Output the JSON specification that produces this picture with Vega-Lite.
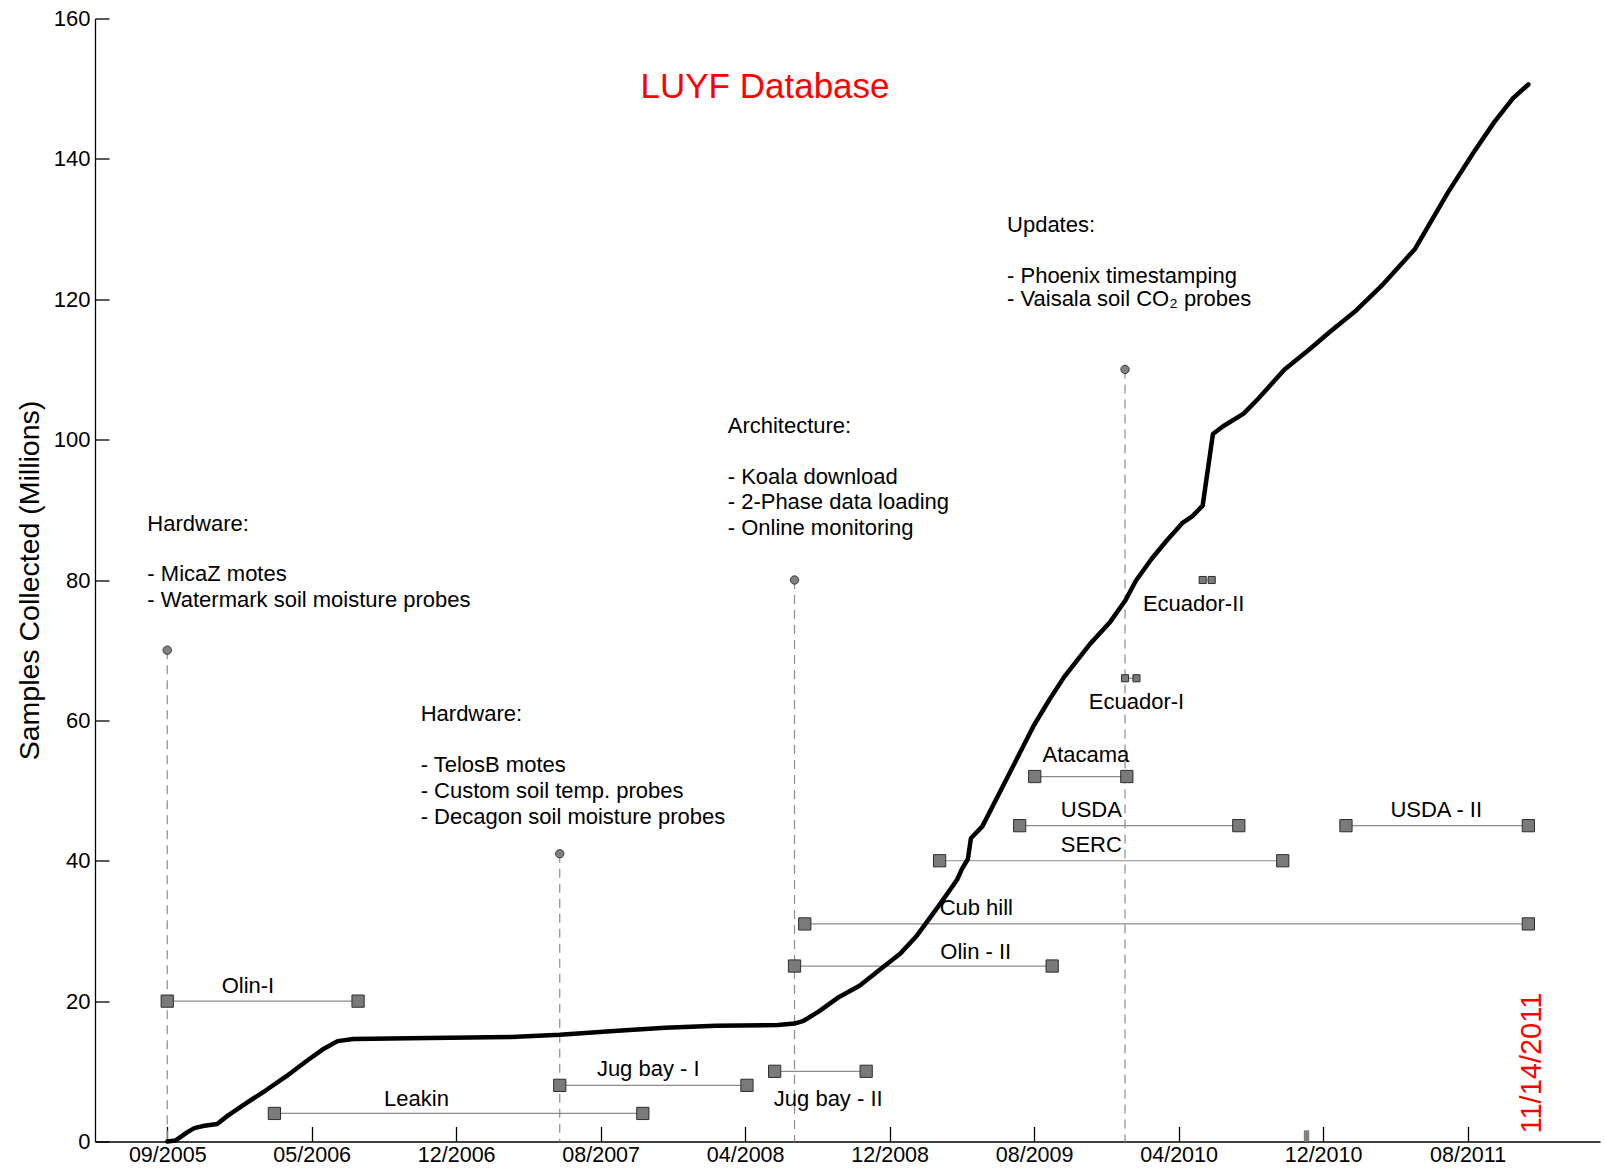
{
  "$schema": "https://vega.github.io/schema/vega-lite/v6.json",
  "width": 1505,
  "height": 1123,
  "autosize": {"type": "none"},
  "padding": {"left": 95, "top": 18.5, "right": 5, "bottom": 26.5},
  "background": "white",
  "config": {
    "view": {"stroke": null},
    "font": "Liberation Sans",
    "text": {"font": "Liberation Sans", "fontSize": 22, "color": "black"}
  },
  "datasets": {
    "samples": [
      {"date": "2005-09-05", "value": 0},
      {"date": "2005-09-19", "value": 0.15},
      {"date": "2005-10-08", "value": 1.3},
      {"date": "2005-10-20", "value": 1.9},
      {"date": "2005-11-03", "value": 2.2},
      {"date": "2005-11-27", "value": 2.5},
      {"date": "2005-12-14", "value": 3.65},
      {"date": "2006-01-13", "value": 5.4},
      {"date": "2006-02-16", "value": 7.3},
      {"date": "2006-03-22", "value": 9.3},
      {"date": "2006-04-25", "value": 11.5},
      {"date": "2006-05-21", "value": 13.1},
      {"date": "2006-06-15", "value": 14.3},
      {"date": "2006-07-11", "value": 14.6},
      {"date": "2006-10-12", "value": 14.7},
      {"date": "2007-03-31", "value": 14.9},
      {"date": "2007-06-19", "value": 15.2},
      {"date": "2007-09-17", "value": 15.75},
      {"date": "2007-12-11", "value": 16.2},
      {"date": "2008-03-05", "value": 16.5},
      {"date": "2008-06-15", "value": 16.6},
      {"date": "2008-07-13", "value": 16.8},
      {"date": "2008-07-28", "value": 17.2},
      {"date": "2008-08-22", "value": 18.5},
      {"date": "2008-09-25", "value": 20.6},
      {"date": "2008-10-29", "value": 22.2},
      {"date": "2008-12-11", "value": 25.1},
      {"date": "2009-01-05", "value": 26.8},
      {"date": "2009-01-31", "value": 29.2},
      {"date": "2009-02-25", "value": 32.1},
      {"date": "2009-03-14", "value": 34.1},
      {"date": "2009-04-09", "value": 37.3},
      {"date": "2009-04-17", "value": 38.8},
      {"date": "2009-04-27", "value": 40.25},
      {"date": "2009-05-02", "value": 43.2},
      {"date": "2009-05-21", "value": 44.9},
      {"date": "2009-07-03", "value": 52.1},
      {"date": "2009-08-14", "value": 59.2},
      {"date": "2009-09-09", "value": 62.9},
      {"date": "2009-10-04", "value": 66.2},
      {"date": "2009-11-16", "value": 70.9},
      {"date": "2009-12-20", "value": 74.1},
      {"date": "2010-01-14", "value": 77.15},
      {"date": "2010-01-31", "value": 79.9},
      {"date": "2010-02-26", "value": 83.0},
      {"date": "2010-03-23", "value": 85.6},
      {"date": "2010-04-18", "value": 88.1},
      {"date": "2010-05-05", "value": 89.1},
      {"date": "2010-05-22", "value": 90.6},
      {"date": "2010-05-30", "value": 95.4},
      {"date": "2010-06-08", "value": 100.8},
      {"date": "2010-06-25", "value": 101.9},
      {"date": "2010-07-29", "value": 103.7},
      {"date": "2010-08-23", "value": 105.9},
      {"date": "2010-10-05", "value": 110.0},
      {"date": "2010-11-16", "value": 112.9},
      {"date": "2010-12-20", "value": 115.4},
      {"date": "2011-02-01", "value": 118.4},
      {"date": "2011-03-15", "value": 121.9},
      {"date": "2011-05-10", "value": 127.2},
      {"date": "2011-06-08", "value": 131.5},
      {"date": "2011-07-04", "value": 135.3},
      {"date": "2011-08-15", "value": 140.9},
      {"date": "2011-09-18", "value": 145.2},
      {"date": "2011-10-19", "value": 148.6},
      {"date": "2011-11-14", "value": 150.6}
    ],
    "milestones": [
      {"date": "2005-09-05", "value": 70},
      {"date": "2007-06-19", "value": 41},
      {"date": "2008-07-13", "value": 80},
      {"date": "2010-01-13", "value": 110}
    ],
    "deployments": [
      {"site": "Olin-I", "start": "2005-09-05", "end": "2006-07-19", "value": 20},
      {"site": "Leakin", "start": "2006-03-02", "end": "2007-11-04", "value": 4},
      {"site": "Jug bay - I", "start": "2007-06-19", "end": "2008-04-25", "value": 8},
      {"site": "Jug bay - II", "start": "2008-06-10", "end": "2008-11-09", "value": 10},
      {"site": "Olin - II", "start": "2008-07-13", "end": "2009-09-14", "value": 25},
      {"site": "Cub hill", "start": "2008-07-30", "end": "2011-11-14", "value": 31},
      {"site": "SERC", "start": "2009-03-11", "end": "2010-10-02", "value": 40},
      {"site": "USDA", "start": "2009-07-22", "end": "2010-07-21", "value": 45},
      {"site": "USDA - II", "start": "2011-01-15", "end": "2011-11-14", "value": 45},
      {"site": "Atacama", "start": "2009-08-16", "end": "2010-01-16", "value": 52}
    ],
    "brief_deployments": [
      {"site": "Ecuador-I", "start": "2010-01-13", "end": "2010-02-01", "value": 66},
      {"site": "Ecuador-II", "start": "2010-05-22", "end": "2010-06-06", "value": 80}
    ],
    "site_labels": [
      {"label": "Olin-I", "date": "2006-01-17", "value": 22.1},
      {"label": "Leakin", "date": "2006-10-24", "value": 6.0},
      {"label": "Jug bay - I", "date": "2007-11-13", "value": 10.4},
      {"label": "Jug bay - II", "date": "2008-09-07", "value": 6.0},
      {"label": "Olin - II", "date": "2009-05-10", "value": 27.0},
      {"label": "Cub hill", "date": "2009-05-11", "value": 33.2},
      {"label": "SERC", "date": "2009-11-18", "value": 42.2},
      {"label": "USDA", "date": "2009-11-18", "value": 47.2},
      {"label": "USDA - II", "date": "2011-06-14", "value": 47.2},
      {"label": "Atacama", "date": "2009-11-09", "value": 55.0},
      {"label": "Ecuador-I", "date": "2010-02-01", "value": 62.6},
      {"label": "Ecuador-II", "date": "2010-05-07", "value": 76.6}
    ],
    "notes": [
      {"line": "Hardware:", "date": "2005-08-03", "value": 88.0},
      {"line": "- MicaZ motes", "date": "2005-08-03", "value": 80.9},
      {"line": "- Watermark soil moisture probes", "date": "2005-08-03", "value": 77.2},
      {"line": "Hardware:", "date": "2006-10-31", "value": 60.9},
      {"line": "- TelosB motes", "date": "2006-10-31", "value": 53.6},
      {"line": "- Custom soil temp. probes", "date": "2006-10-31", "value": 49.95},
      {"line": "- Decagon soil moisture probes", "date": "2006-10-31", "value": 46.3},
      {"line": "Architecture:", "date": "2008-03-24", "value": 101.9},
      {"line": "- Koala download", "date": "2008-03-24", "value": 94.7},
      {"line": "- 2-Phase data loading", "date": "2008-03-24", "value": 91.1},
      {"line": "- Online monitoring", "date": "2008-03-24", "value": 87.4},
      {"line": "Updates:", "date": "2009-07-01", "value": 130.6},
      {"line": "- Phoenix timestamping", "date": "2009-07-01", "value": 123.3},
      {"line": "- Vaisala soil CO₂ probes", "date": "2009-07-01", "value": 120.1}
    ],
    "heading": [
      {"label": "LUYF Database", "date": "2008-05-25", "value": 150.3}
    ],
    "as_of": [
      {"label": "11/14/2011", "date": "2011-11-14", "value": 0}
    ],
    "gap_marker": [
      {"start": "2010-11-06", "end": "2010-11-15", "low": 0, "high": 1.6}
    ]
  },
  "layer": [
    {
      "data": {"name": "milestones"},
      "mark": {"type": "rule", "color": "#8c8c8c", "strokeWidth": 1.2, "strokeDash": [9, 6]},
      "encoding": {
        "x": {
          "field": "date",
          "type": "temporal",
          "scale": {"type": "utc", "domain": [{"year": 2005, "month": 5, "date": 8, "utc": true}, {"year": 2012, "month": 3, "date": 12, "utc": true}]},
          "axis": {
            "title": null,
            "grid": false,
            "values": [
              {"year": 2005, "month": 9, "date": 5, "utc": true},
              {"year": 2006, "month": 5, "date": 3, "utc": true},
              {"year": 2006, "month": 12, "date": 29, "utc": true},
              {"year": 2007, "month": 8, "date": 26, "utc": true},
              {"year": 2008, "month": 4, "date": 22, "utc": true},
              {"year": 2008, "month": 12, "date": 18, "utc": true},
              {"year": 2009, "month": 8, "date": 15, "utc": true},
              {"year": 2010, "month": 4, "date": 12, "utc": true},
              {"year": 2010, "month": 12, "date": 8, "utc": true},
              {"year": 2011, "month": 8, "date": 5, "utc": true}
            ],
            "format": "%m/%Y",
            "labelFont": "Liberation Sans",
            "labelFontSize": 21.5,
            "labelColor": "black",
            "labelPadding": 18,
            "labelFlush": false,
            "labelOverlap": false,
            "domainColor": "black",
            "domainWidth": 1.3,
            "tickColor": "black",
            "tickWidth": 1.3,
            "tickSize": -15
          }
        },
        "y": {
          "field": "value",
          "type": "quantitative",
          "scale": {"domain": [0, 160], "nice": false, "zero": true},
          "axis": {
            "title": "Samples Collected (Millions)",
            "titleFont": "Liberation Sans",
            "titleFontSize": 28.5,
            "titleFontWeight": "normal",
            "titleColor": "black",
            "titlePadding": 9,
            "grid": false,
            "values": [0, 20, 40, 60, 80, 100, 120, 140, 160],
            "labelFont": "Liberation Sans",
            "labelFontSize": 22,
            "labelColor": "black",
            "labelPadding": 19,
            "labelFlush": false,
            "domainColor": "black",
            "domainWidth": 1.3,
            "tickColor": "black",
            "tickWidth": 1.3,
            "tickSize": -14
          }
        },
        "y2": {"datum": 0}
      }
    },
    {
      "data": {"name": "milestones"},
      "mark": {"type": "point", "shape": "circle", "filled": true, "size": 70, "color": "#808080", "stroke": "#3a3a3a", "strokeWidth": 1, "opacity": 1},
      "encoding": {
        "x": {"field": "date", "type": "temporal", "scale": {"type": "utc"}},
        "y": {"field": "value", "type": "quantitative"}
      }
    },
    {
      "data": {"name": "deployments"},
      "mark": {"type": "rule", "color": "#8c8c8c", "strokeWidth": 1.2},
      "encoding": {
        "x": {"field": "start", "type": "temporal", "scale": {"type": "utc"}},
        "x2": {"field": "end"},
        "y": {"field": "value", "type": "quantitative"}
      }
    },
    {
      "data": {"name": "brief_deployments"},
      "mark": {"type": "rule", "color": "#8c8c8c", "strokeWidth": 1.2},
      "encoding": {
        "x": {"field": "start", "type": "temporal", "scale": {"type": "utc"}},
        "x2": {"field": "end"},
        "y": {"field": "value", "type": "quantitative"}
      }
    },
    {
      "data": {"name": "deployments"},
      "transform": [{"fold": ["start", "end"], "as": ["edge", "date"]}],
      "mark": {"type": "point", "shape": "square", "filled": true, "size": 150, "color": "#7a7a7a", "stroke": "#2e2e2e", "strokeWidth": 1, "opacity": 1},
      "encoding": {
        "x": {"field": "date", "type": "temporal", "scale": {"type": "utc"}},
        "y": {"field": "value", "type": "quantitative"}
      }
    },
    {
      "data": {"name": "brief_deployments"},
      "transform": [{"fold": ["start", "end"], "as": ["edge", "date"]}],
      "mark": {"type": "point", "shape": "square", "filled": true, "size": 50, "color": "#7a7a7a", "stroke": "#2e2e2e", "strokeWidth": 1, "opacity": 1},
      "encoding": {
        "x": {"field": "date", "type": "temporal", "scale": {"type": "utc"}},
        "y": {"field": "value", "type": "quantitative"}
      }
    },
    {
      "data": {"name": "gap_marker"},
      "mark": {"type": "rect", "color": "#808080"},
      "encoding": {
        "x": {"field": "start", "type": "temporal", "scale": {"type": "utc"}},
        "x2": {"field": "end"},
        "y": {"field": "low", "type": "quantitative"},
        "y2": {"field": "high"}
      }
    },
    {
      "data": {"name": "samples"},
      "mark": {"type": "line", "color": "black", "strokeWidth": 4.5, "strokeJoin": "round", "strokeCap": "round"},
      "encoding": {
        "x": {"field": "date", "type": "temporal", "scale": {"type": "utc"}},
        "y": {"field": "value", "type": "quantitative"}
      }
    },
    {
      "data": {"name": "site_labels"},
      "mark": {"type": "text", "align": "center", "baseline": "middle", "fontSize": 22},
      "encoding": {
        "x": {"field": "date", "type": "temporal", "scale": {"type": "utc"}},
        "y": {"field": "value", "type": "quantitative"},
        "text": {"field": "label"}
      }
    },
    {
      "data": {"name": "notes"},
      "mark": {"type": "text", "align": "left", "baseline": "middle", "fontSize": 22},
      "encoding": {
        "x": {"field": "date", "type": "temporal", "scale": {"type": "utc"}},
        "y": {"field": "value", "type": "quantitative"},
        "text": {"field": "line"}
      }
    },
    {
      "data": {"name": "heading"},
      "mark": {"type": "text", "align": "center", "baseline": "middle", "fontSize": 35, "color": "red"},
      "encoding": {
        "x": {"field": "date", "type": "temporal", "scale": {"type": "utc"}},
        "y": {"field": "value", "type": "quantitative"},
        "text": {"field": "label"}
      }
    },
    {
      "data": {"name": "as_of"},
      "mark": {"type": "text", "align": "left", "baseline": "middle", "angle": 270, "fontSize": 29, "color": "red", "dx": 8, "dy": 4},
      "encoding": {
        "x": {"field": "date", "type": "temporal", "scale": {"type": "utc"}},
        "y": {"field": "value", "type": "quantitative"},
        "text": {"field": "label"}
      }
    }
  ]
}
